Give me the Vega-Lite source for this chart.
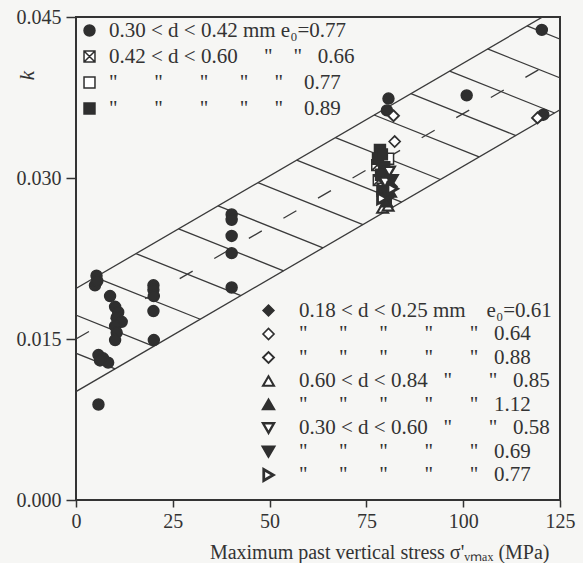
{
  "$schema": "https://vega.github.io/schema/vega-lite/v6.json",
  "width": 484,
  "height": 483,
  "autosize": {"type": "none"},
  "padding": {"left": 76, "top": 17, "right": 23, "bottom": 63},
  "background": "#f6f6f4",
  "config": {
    "view": {"stroke": "#333", "strokeWidth": 2},
    "font": "Liberation Serif, Times New Roman, serif",
    "legend": {
      "padding": 0, "title": null,
      "labelFont": "Liberation Serif, Times New Roman, serif", "labelFontSize": 21, "labelColor": "#333", "labelLimit": 500,
      "symbolSize": 120, "symbolStrokeColor": "#2f2f2f"
    }
  },
  "datasets": {
    "lines": [
      {"x": 0, "k": 0.0197, "x2": 125, "k2": 0.04595},
      {"x": 0, "k": 0.0101, "x2": 125, "k2": 0.03635},
      {"x": -17, "k": 0.01613, "x2": 10.1, "k2": 0.012221},
      {"x": -7, "k": 0.01823, "x2": 20.1, "k2": 0.014321},
      {"x": 5, "k": 0.02075, "x2": 32.1, "k2": 0.016841},
      {"x": 15.5, "k": 0.022955, "x2": 42.6, "k2": 0.019046},
      {"x": 26.5, "k": 0.025265, "x2": 53.6, "k2": 0.021356},
      {"x": 36.7, "k": 0.027407, "x2": 63.8, "k2": 0.023498},
      {"x": 47, "k": 0.02957, "x2": 74.1, "k2": 0.025661},
      {"x": 57, "k": 0.03167, "x2": 84.1, "k2": 0.027761},
      {"x": 67, "k": 0.03377, "x2": 94.1, "k2": 0.029861},
      {"x": 77, "k": 0.03587, "x2": 104.1, "k2": 0.031961},
      {"x": 86.5, "k": 0.037865, "x2": 113.6, "k2": 0.033956},
      {"x": 96.5, "k": 0.039965, "x2": 123.6, "k2": 0.036056},
      {"x": 106.3, "k": 0.042023, "x2": 133.4, "k2": 0.038114},
      {"x": 116.5, "k": 0.044165, "x2": 143.6, "k2": 0.040256}
    ],
    "center": [
      {"x": 0, "k": 0.015, "x2": 125, "k2": 0.04125}
    ],
    "ptsA": [
      {"x": 5.3, "k": 0.0209, "s": "A1"},
      {"x": 4.9, "k": 0.0200, "s": "A1"},
      {"x": 5.5, "k": 0.0204, "s": "A1"},
      {"x": 8.8, "k": 0.0190, "s": "A1"},
      {"x": 10.1, "k": 0.0180, "s": "A1"},
      {"x": 10.9, "k": 0.0175, "s": "A1"},
      {"x": 10.5, "k": 0.0170, "s": "A1"},
      {"x": 11.8, "k": 0.0166, "s": "A1"},
      {"x": 10.1, "k": 0.0162, "s": "A1"},
      {"x": 10.5, "k": 0.0156, "s": "A1"},
      {"x": 10.1, "k": 0.0149, "s": "A1"},
      {"x": 5.8, "k": 0.0135, "s": "A1"},
      {"x": 7.0, "k": 0.0132, "s": "A1"},
      {"x": 8.3, "k": 0.0128, "s": "A1"},
      {"x": 6.2, "k": 0.0130, "s": "A1"},
      {"x": 5.8, "k": 0.0089, "s": "A1"},
      {"x": 20.0, "k": 0.0200, "s": "A1"},
      {"x": 20.0, "k": 0.0196, "s": "A1"},
      {"x": 20.1, "k": 0.0190, "s": "A1"},
      {"x": 20.0, "k": 0.0176, "s": "A1"},
      {"x": 20.1, "k": 0.0149, "s": "A1"},
      {"x": 40.2, "k": 0.0266, "s": "A1"},
      {"x": 40.2, "k": 0.0261, "s": "A1"},
      {"x": 40.2, "k": 0.0246, "s": "A1"},
      {"x": 40.2, "k": 0.0230, "s": "A1"},
      {"x": 40.2, "k": 0.0198, "s": "A1"},
      {"x": 80.7, "k": 0.0374, "s": "A1"},
      {"x": 80.3, "k": 0.0363, "s": "A1"},
      {"x": 100.9, "k": 0.0377, "s": "A1"},
      {"x": 120.3, "k": 0.0438, "s": "A1"},
      {"x": 120.7, "k": 0.0359, "s": "A1"},
      {"x": 77.8, "k": 0.0312, "s": "A2"},
      {"x": 78.2, "k": 0.0298, "s": "A2"},
      {"x": 79.2, "k": 0.0290, "s": "A2"},
      {"x": 79.5, "k": 0.0284, "s": "A3"},
      {"x": 80.6, "k": 0.0318, "s": "A3"},
      {"x": 78.5, "k": 0.0326, "s": "A4"},
      {"x": 78.0, "k": 0.0318, "s": "A4"},
      {"x": 79.6, "k": 0.0310, "s": "A4"},
      {"x": 78.8, "k": 0.0303, "s": "A4"},
      {"x": 80.5, "k": 0.0296, "s": "A4"},
      {"x": 79.2, "k": 0.0288, "s": "A4"},
      {"x": 80.0, "k": 0.0281, "s": "A4"},
      {"x": 79.0, "k": 0.0322, "s": "A4"}
    ],
    "ptsB": [
      {"x": 81.0, "k": 0.0300, "s": "B1"},
      {"x": 81.5, "k": 0.0292, "s": "B1"},
      {"x": 80.8, "k": 0.0283, "s": "B1"},
      {"x": 82.3, "k": 0.0334, "s": "B2"},
      {"x": 82.0, "k": 0.0358, "s": "B3"},
      {"x": 119.2, "k": 0.0356, "s": "B3"},
      {"x": 79.2, "k": 0.0272, "s": "B4"},
      {"x": 80.6, "k": 0.0274, "s": "B4"},
      {"x": 81.2, "k": 0.0287, "s": "B5"},
      {"x": 80.2, "k": 0.0278, "s": "B5"},
      {"x": 80.9, "k": 0.0306, "s": "B6"},
      {"x": 79.8, "k": 0.0296, "s": "B6"},
      {"x": 81.6, "k": 0.0298, "s": "B7"},
      {"x": 80.6, "k": 0.0285, "s": "B7"},
      {"x": 79.1, "k": 0.0281, "s": "B8"},
      {"x": 81.8, "k": 0.0290, "s": "B8"}
    ]
  },
  "encoding": {
    "x": {
      "field": "x", "type": "quantitative",
      "scale": {"domain": [0, 125], "nice": false, "zero": false},
      "axis": {
        "values": [0, 25, 50, 75, 100, 125],
        "title": "Maximum past vertical stress σ'ᵥₘₐₓ (MPa)",
        "titleFont": "Liberation Serif, Times New Roman, serif", "titleFontSize": 20, "titleFontWeight": "normal", "titleColor": "#333",
        "titleAnchor": "end", "titleAlign": "right", "titleX": 473, "titleY": 58, "titleBaseline": "alphabetic",
        "labelFont": "Liberation Serif, Times New Roman, serif", "labelFontSize": 20, "labelColor": "#333", "labelPadding": 4, "labelFlush": false,
        "tickSize": 7, "tickColor": "#333", "tickWidth": 1.5, "domain": false, "grid": false
      }
    },
    "y": {
      "field": "k", "type": "quantitative",
      "scale": {"domain": [0, 0.045], "nice": false},
      "axis": {
        "values": [0, 0.015, 0.03, 0.045], "format": ".3f",
        "title": "k", "titleFont": "Liberation Serif, Times New Roman, serif", "titleFontSize": 21, "titleFontStyle": "italic", "titleFontWeight": "normal", "titleColor": "#333",
        "titleX": -49, "titleY": 58, "titleAngle": -90, "titleAlign": "center", "titleBaseline": "middle",
        "labelFont": "Liberation Serif, Times New Roman, serif", "labelFontSize": 20, "labelColor": "#333", "labelPadding": 5, "labelFlush": false,
        "tickSize": 10, "tickColor": "#333", "tickWidth": 1.5, "domain": false, "grid": false
      }
    }
  },
  "layer": [
    {
      "data": {"name": "lines"},
      "mark": {"type": "rule", "clip": true, "color": "#3a3a3a", "strokeWidth": 1.3},
      "encoding": {"x2": {"field": "x2"}, "y2": {"field": "k2"}}
    },
    {
      "data": {"name": "center"},
      "mark": {"type": "rule", "clip": true, "color": "#3a3a3a", "strokeWidth": 1.3, "strokeDash": [15, 25]},
      "encoding": {"x2": {"field": "x2"}, "y2": {"field": "k2"}}
    },
    {
      "data": {"name": "ptsA"},
      "mark": {"type": "point", "size": 120, "strokeWidth": 1.5, "opacity": 1},
      "encoding": {
        "shape": {
          "field": "s", "type": "nominal",
          "scale": {"domain": ["A1", "A2", "A3", "A4"], "range": ["circle", "M-1,-1H1V1H-1ZM-1,-1L1,1M1,-1L-1,1", "square", "square"]},
          "legend": {
            "orient": "top-left", "offset": 3, "labelOffset": 9, "rowPadding": 4, "symbolStrokeWidth": 1.5,
            "labelExpr": "datum.value == 'A1' ? '0.30 < d < 0.42 mm e₀=0.77' : datum.value == 'A2' ? '0.42 < d < 0.60\u00a0\u00a0\u00a0\u00a0\u00a0\"\u00a0\u00a0\u00a0\u00a0\"\u00a0\u00a0\u00a00.66' : datum.value == 'A3' ? '\u00a0\u00a0\u00a0\"\u00a0\u00a0\u00a0\u00a0\u00a0\u00a0\u00a0\"\u00a0\u00a0\u00a0\u00a0\u00a0\u00a0\u00a0\"\u00a0\u00a0\u00a0\u00a0\u00a0\u00a0\"\u00a0\u00a0\u00a0\u00a0\u00a0\"\u00a0\u00a0\u00a0\u00a00.77' : '\u00a0\u00a0\u00a0\"\u00a0\u00a0\u00a0\u00a0\u00a0\u00a0\u00a0\"\u00a0\u00a0\u00a0\u00a0\u00a0\u00a0\u00a0\"\u00a0\u00a0\u00a0\u00a0\u00a0\u00a0\"\u00a0\u00a0\u00a0\u00a0\u00a0\"\u00a0\u00a0\u00a0\u00a00.89'"
          }
        },
        "fill": {
          "field": "s", "type": "nominal",
          "scale": {"domain": ["A1", "A2", "A3", "A4"], "range": ["#2f2f2f", "#ffffff", "#ffffff", "#2f2f2f"]},
          "legend": {
            "orient": "top-left", "offset": 3, "labelOffset": 9, "rowPadding": 4, "symbolStrokeWidth": 1.5,
            "labelExpr": "datum.value == 'A1' ? '0.30 < d < 0.42 mm e₀=0.77' : datum.value == 'A2' ? '0.42 < d < 0.60\u00a0\u00a0\u00a0\u00a0\u00a0\"\u00a0\u00a0\u00a0\u00a0\"\u00a0\u00a0\u00a00.66' : datum.value == 'A3' ? '\u00a0\u00a0\u00a0\"\u00a0\u00a0\u00a0\u00a0\u00a0\u00a0\u00a0\"\u00a0\u00a0\u00a0\u00a0\u00a0\u00a0\u00a0\"\u00a0\u00a0\u00a0\u00a0\u00a0\u00a0\"\u00a0\u00a0\u00a0\u00a0\u00a0\"\u00a0\u00a0\u00a0\u00a00.77' : '\u00a0\u00a0\u00a0\"\u00a0\u00a0\u00a0\u00a0\u00a0\u00a0\u00a0\"\u00a0\u00a0\u00a0\u00a0\u00a0\u00a0\u00a0\"\u00a0\u00a0\u00a0\u00a0\u00a0\u00a0\"\u00a0\u00a0\u00a0\u00a0\u00a0\"\u00a0\u00a0\u00a0\u00a00.89'"
          }
        },
        "stroke": {
          "field": "s", "type": "nominal",
          "scale": {"domain": ["A1", "A2", "A3", "A4"], "range": ["#2f2f2f", "#2f2f2f", "#2f2f2f", "#2f2f2f"]},
          "legend": {
            "orient": "top-left", "offset": 3, "labelOffset": 9, "rowPadding": 4, "symbolStrokeWidth": 1.5,
            "labelExpr": "datum.value == 'A1' ? '0.30 < d < 0.42 mm e₀=0.77' : datum.value == 'A2' ? '0.42 < d < 0.60\u00a0\u00a0\u00a0\u00a0\u00a0\"\u00a0\u00a0\u00a0\u00a0\"\u00a0\u00a0\u00a00.66' : datum.value == 'A3' ? '\u00a0\u00a0\u00a0\"\u00a0\u00a0\u00a0\u00a0\u00a0\u00a0\u00a0\"\u00a0\u00a0\u00a0\u00a0\u00a0\u00a0\u00a0\"\u00a0\u00a0\u00a0\u00a0\u00a0\u00a0\"\u00a0\u00a0\u00a0\u00a0\u00a0\"\u00a0\u00a0\u00a0\u00a00.77' : '\u00a0\u00a0\u00a0\"\u00a0\u00a0\u00a0\u00a0\u00a0\u00a0\u00a0\"\u00a0\u00a0\u00a0\u00a0\u00a0\u00a0\u00a0\"\u00a0\u00a0\u00a0\u00a0\u00a0\u00a0\"\u00a0\u00a0\u00a0\u00a0\u00a0\"\u00a0\u00a0\u00a0\u00a00.89'"
          }
        }
      }
    },
    {
      "data": {"name": "ptsB"},
      "mark": {"type": "point", "size": 120, "opacity": 1},
      "encoding": {
        "shape": {
          "field": "s", "type": "nominal",
          "scale": {"domain": ["B1", "B2", "B3", "B4", "B5", "B6", "B7", "B8"], "range": ["diamond", "diamond", "diamond", "triangle-up", "triangle-up", "triangle-down", "triangle-down", "triangle-right"]},
          "legend": {
            "orient": "none", "legendX": 182, "legendY": 283, "labelOffset": 20, "rowPadding": 1.5,
            "labelExpr": "datum.value == 'B1' ? '0.18 < d < 0.25 mm\u00a0\u00a0\u00a0\u00a0e₀=0.61' : datum.value == 'B4' ? '0.60 < d < 0.84\u00a0\u00a0\u00a0\"\u00a0\u00a0\u00a0\u00a0\u00a0\u00a0\u00a0\"\u00a0\u00a0\u00a00.85' : datum.value == 'B6' ? '0.30 < d < 0.60\u00a0\u00a0\u00a0\"\u00a0\u00a0\u00a0\u00a0\u00a0\u00a0\u00a0\"\u00a0\u00a0\u00a00.58' : '\u00a0\u00a0\u00a0\"\u00a0\u00a0\u00a0\u00a0\u00a0\u00a0\"\u00a0\u00a0\u00a0\u00a0\u00a0\u00a0\"\u00a0\u00a0\u00a0\u00a0\u00a0\u00a0\u00a0\"\u00a0\u00a0\u00a0\u00a0\u00a0\u00a0\u00a0\"\u00a0\u00a0\u00a0' + (datum.value == 'B2' ? '0.64' : datum.value == 'B3' ? '0.88' : datum.value == 'B5' ? '1.12' : datum.value == 'B7' ? '0.69' : '0.77')"
          }
        },
        "fill": {
          "field": "s", "type": "nominal",
          "scale": {"domain": ["B1", "B2", "B3", "B4", "B5", "B6", "B7", "B8"], "range": ["#2f2f2f", "#ffffff", "#ffffff", "#ffffff", "#2f2f2f", "#ffffff", "#2f2f2f", "#ffffff"]},
          "legend": {
            "orient": "none", "legendX": 182, "legendY": 283, "labelOffset": 20, "rowPadding": 1.5,
            "labelExpr": "datum.value == 'B1' ? '0.18 < d < 0.25 mm\u00a0\u00a0\u00a0\u00a0e₀=0.61' : datum.value == 'B4' ? '0.60 < d < 0.84\u00a0\u00a0\u00a0\"\u00a0\u00a0\u00a0\u00a0\u00a0\u00a0\u00a0\"\u00a0\u00a0\u00a00.85' : datum.value == 'B6' ? '0.30 < d < 0.60\u00a0\u00a0\u00a0\"\u00a0\u00a0\u00a0\u00a0\u00a0\u00a0\u00a0\"\u00a0\u00a0\u00a00.58' : '\u00a0\u00a0\u00a0\"\u00a0\u00a0\u00a0\u00a0\u00a0\u00a0\"\u00a0\u00a0\u00a0\u00a0\u00a0\u00a0\"\u00a0\u00a0\u00a0\u00a0\u00a0\u00a0\u00a0\"\u00a0\u00a0\u00a0\u00a0\u00a0\u00a0\u00a0\"\u00a0\u00a0\u00a0' + (datum.value == 'B2' ? '0.64' : datum.value == 'B3' ? '0.88' : datum.value == 'B5' ? '1.12' : datum.value == 'B7' ? '0.69' : '0.77')"
          }
        },
        "stroke": {
          "field": "s", "type": "nominal",
          "scale": {"domain": ["B1", "B2", "B3", "B4", "B5", "B6", "B7", "B8"], "range": ["#2f2f2f", "#2f2f2f", "#2f2f2f", "#2f2f2f", "#2f2f2f", "#2f2f2f", "#2f2f2f", "#2f2f2f"]},
          "legend": {
            "orient": "none", "legendX": 182, "legendY": 283, "labelOffset": 20, "rowPadding": 1.5,
            "labelExpr": "datum.value == 'B1' ? '0.18 < d < 0.25 mm\u00a0\u00a0\u00a0\u00a0e₀=0.61' : datum.value == 'B4' ? '0.60 < d < 0.84\u00a0\u00a0\u00a0\"\u00a0\u00a0\u00a0\u00a0\u00a0\u00a0\u00a0\"\u00a0\u00a0\u00a00.85' : datum.value == 'B6' ? '0.30 < d < 0.60\u00a0\u00a0\u00a0\"\u00a0\u00a0\u00a0\u00a0\u00a0\u00a0\u00a0\"\u00a0\u00a0\u00a00.58' : '\u00a0\u00a0\u00a0\"\u00a0\u00a0\u00a0\u00a0\u00a0\u00a0\"\u00a0\u00a0\u00a0\u00a0\u00a0\u00a0\"\u00a0\u00a0\u00a0\u00a0\u00a0\u00a0\u00a0\"\u00a0\u00a0\u00a0\u00a0\u00a0\u00a0\u00a0\"\u00a0\u00a0\u00a0' + (datum.value == 'B2' ? '0.64' : datum.value == 'B3' ? '0.88' : datum.value == 'B5' ? '1.12' : datum.value == 'B7' ? '0.69' : '0.77')"
          }
        },
        "strokeWidth": {
          "field": "s", "type": "nominal",
          "scale": {"domain": ["B1", "B2", "B3", "B4", "B5", "B6", "B7", "B8"], "range": [1.5, 2.8, 1.3, 1.3, 1.5, 1.3, 1.5, 1.3]},
          "legend": {
            "orient": "none", "legendX": 182, "legendY": 283, "labelOffset": 20, "rowPadding": 1.5,
            "labelExpr": "datum.value == 'B1' ? '0.18 < d < 0.25 mm\u00a0\u00a0\u00a0\u00a0e₀=0.61' : datum.value == 'B4' ? '0.60 < d < 0.84\u00a0\u00a0\u00a0\"\u00a0\u00a0\u00a0\u00a0\u00a0\u00a0\u00a0\"\u00a0\u00a0\u00a00.85' : datum.value == 'B6' ? '0.30 < d < 0.60\u00a0\u00a0\u00a0\"\u00a0\u00a0\u00a0\u00a0\u00a0\u00a0\u00a0\"\u00a0\u00a0\u00a00.58' : '\u00a0\u00a0\u00a0\"\u00a0\u00a0\u00a0\u00a0\u00a0\u00a0\"\u00a0\u00a0\u00a0\u00a0\u00a0\u00a0\"\u00a0\u00a0\u00a0\u00a0\u00a0\u00a0\u00a0\"\u00a0\u00a0\u00a0\u00a0\u00a0\u00a0\u00a0\"\u00a0\u00a0\u00a0' + (datum.value == 'B2' ? '0.64' : datum.value == 'B3' ? '0.88' : datum.value == 'B5' ? '1.12' : datum.value == 'B7' ? '0.69' : '0.77')"
          }
        }
      }
    }
  ],
  "resolve": {"scale": {"shape": "independent", "fill": "independent", "stroke": "independent", "strokeWidth": "independent"}}
}
